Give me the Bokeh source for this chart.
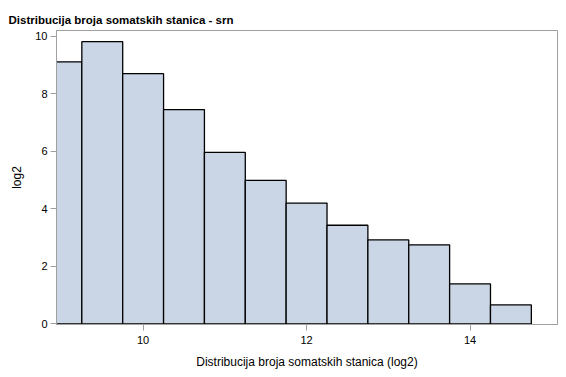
from bokeh.plotting import figure
from bokeh.embed import file_html
from bokeh.resources import INLINE
from bokeh.models import FixedTicker

# Histogram bins (log2 of somatic cell count), bin width 0.5
bin_left = [8.75, 9.25, 9.75, 10.25, 10.75, 11.25, 11.75, 12.25, 12.75, 13.25, 13.75, 14.25]
bin_right = [9.25, 9.75, 10.25, 10.75, 11.25, 11.75, 12.25, 12.75, 13.25, 13.75, 14.25, 14.75]
counts = [9.11, 9.81, 8.70, 7.45, 5.96, 4.99, 4.20, 3.43, 2.92, 2.75, 1.39, 0.66]
x_ticks = [10, 12, 14]
y_ticks = [0, 2, 4, 6, 8, 10]

FONT = "Liberation Sans"
GRAY = "#a0a0a0"

p = figure(width=566, height=377, output_backend="svg", toolbar_location=None,
           x_range=(8.94, 15.07), y_range=(-0.02, 10.2),
           min_border_left=56, min_border_right=9, min_border_top=30, min_border_bottom=53,
           title="Distribucija broja somatskih stanica - srn")

p.quad(left=bin_left, right=bin_right, bottom=0, top=counts,
       fill_color="#cad5e5", line_color="black", line_width=1.3)

p.title.text_font = FONT
p.title.text_font_size = "11.5px"
p.title.text_font_style = "bold"
p.title.text_color = "black"
p.title.offset = -48
p.title.standoff = 9

p.xgrid.visible = False
p.ygrid.visible = False
p.outline_line_color = GRAY
p.outline_line_width = 1
p.background_fill_color = "white"
p.border_fill_color = "white"

p.xaxis.ticker = FixedTicker(ticks=x_ticks)
p.yaxis.ticker = FixedTicker(ticks=y_ticks)
p.xaxis.axis_label = "Distribucija broja somatskih stanica (log2)"
p.yaxis.axis_label = "log2"

for ax in (p.xaxis, p.yaxis):
    ax.axis_line_color = GRAY
    ax.major_tick_line_color = GRAY
    ax.minor_tick_line_color = None
    ax.major_tick_out = 6
    ax.major_tick_in = 0
    ax.major_label_text_font = FONT
    ax.major_label_text_font_size = "11px"
    ax.major_label_text_color = "black"
    ax.axis_label_text_font = FONT
    ax.axis_label_text_font_size = "12px"
    ax.axis_label_text_font_style = "normal"
    ax.axis_label_text_color = "black"

p.xaxis.major_label_standoff = 5
p.xaxis.axis_label_standoff = 8
p.yaxis.major_label_standoff = 3
p.yaxis.axis_label_standoff = 8

open("out.html", "w").write(file_html(p, INLINE))
